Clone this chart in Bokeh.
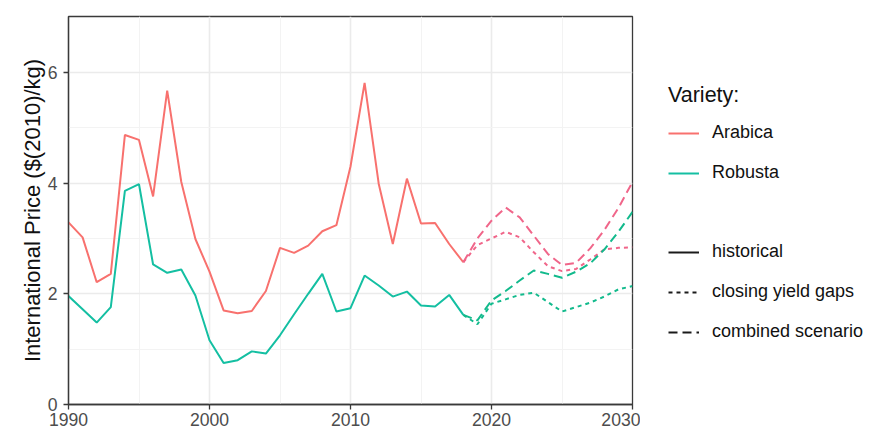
from bokeh.plotting import figure
from bokeh.layouts import row
from bokeh.models import FixedTicker, Legend, LegendItem, Range1d
from bokeh.embed import file_html
from bokeh.resources import INLINE

# ---------------- data ----------------
years_hist = [1990, 1991, 1992, 1993, 1994, 1995, 1996, 1997, 1998, 1999,
              2000, 2001, 2002, 2003, 2004, 2005, 2006, 2007, 2008, 2009,
              2010, 2011, 2012, 2013, 2014, 2015, 2016, 2017, 2018]
arabica_hist = [3.29, 3.02, 2.21, 2.36, 4.87, 4.78, 3.76, 5.67, 4.02, 2.99,
                2.40, 1.70, 1.65, 1.69, 2.05, 2.83, 2.74, 2.87, 3.13, 3.24,
                4.30, 5.81, 3.99, 2.90, 4.08, 3.27, 3.28, 2.90, 2.57]
robusta_hist = [1.96, 1.72, 1.48, 1.76, 3.86, 3.98, 2.53, 2.38, 2.44, 1.97,
                1.16, 0.75, 0.80, 0.96, 0.92, 1.25, 1.63, 2.00, 2.36, 1.68,
                1.74, 2.33, 2.15, 1.95, 2.04, 1.79, 1.77, 1.98, 1.62]

years_proj = [2018, 2019, 2020, 2021, 2022, 2023, 2024, 2025, 2026, 2027,
              2028, 2029, 2030]
arabica_gaps = [2.57, 2.88, 3.00, 3.12, 3.02, 2.75, 2.50, 2.41, 2.45, 2.62,
                2.80, 2.83, 2.84]
arabica_comb = [2.57, 3.00, 3.32, 3.56, 3.38, 3.05, 2.72, 2.52, 2.56, 2.82,
                3.15, 3.55, 4.02]
robusta_gaps = [1.62, 1.45, 1.82, 1.90, 1.98, 2.02, 1.85, 1.68, 1.76, 1.84,
                1.95, 2.08, 2.14]
robusta_comb = [1.62, 1.52, 1.88, 2.05, 2.24, 2.42, 2.36, 2.29, 2.40, 2.55,
                2.80, 3.12, 3.48]

x_ticks = [1990, 2000, 2010, 2020, 2030]
x_minor = [1995, 2005, 2015, 2025]
y_ticks = [0, 2, 4, 6]
y_minor = [1, 3, 5]

varieties = ["Arabica", "Robusta"]
scenarios = ["historical", "closing yield gaps", "combined scenario"]

# ---------------- style ----------------
FONT = "Liberation Sans"
COL_AR = "#F8716E"
COL_RO = "#14BFA2"
COL_AR_P = "#F0668A"
COL_RO_P = "#12BA8C"
DOT = "4 4"
DASH = "9 5"
NAN = float("nan")

p = figure(width=640, height=441, output_backend="svg", toolbar_location=None,
           x_range=Range1d(1990, 2030), y_range=Range1d(0, 7.01),
           min_border_left=68, min_border_right=8, min_border_top=16,
           min_border_bottom=37)
p.background_fill_color = "white"
p.border_fill_color = "white"
p.outline_line_color = "#3a3a3a"
p.outline_line_width = 1.3

p.xaxis.ticker = FixedTicker(ticks=x_ticks, minor_ticks=x_minor)
p.yaxis.ticker = FixedTicker(ticks=y_ticks, minor_ticks=y_minor)
for ax in (p.xaxis, p.yaxis):
    ax.axis_line_color = "#3a3a3a"
    ax.axis_line_width = 1.3
    ax.major_tick_line_color = "#3a3a3a"
    ax.major_tick_line_width = 1.3
    ax.major_tick_out = 5
    ax.major_tick_in = 0
    ax.minor_tick_line_color = None
    ax.major_label_text_font = FONT
    ax.major_label_text_font_size = "17.6px"
    ax.major_label_text_color = "#4d4d4d"
p.xaxis.major_label_standoff = 3
p.yaxis.major_label_standoff = 6
p.yaxis.axis_label = "International Price ($(2010)/kg)"
p.yaxis.axis_label_text_font = FONT
p.yaxis.axis_label_text_font_size = "22px"
p.yaxis.axis_label_text_font_style = "normal"
p.yaxis.axis_label_text_color = "#111111"
p.yaxis.axis_label_standoff = 0

for g in (p.xgrid, p.ygrid):
    g.grid_line_color = "#ebebeb"
    g.grid_line_width = 1.6
    g.minor_grid_line_color = "#f3f3f3"
    g.minor_grid_line_width = 1

# ---------------- lines ----------------
p.line(years_hist, arabica_hist, line_color=COL_AR, line_width=2)
p.line(years_hist, robusta_hist, line_color=COL_RO, line_width=2)
p.line(years_proj, arabica_gaps, line_color=COL_AR_P, line_width=2, line_dash=DOT)
p.line(years_proj, arabica_comb, line_color=COL_AR_P, line_width=2, line_dash=DASH)
p.line(years_proj, robusta_gaps, line_color=COL_RO_P, line_width=2, line_dash=DOT)
p.line(years_proj, robusta_comb, line_color=COL_RO_P, line_width=2, line_dash=DASH)

# ---------------- legend panel ----------------
q = figure(width=247, height=441, output_backend="svg", toolbar_location=None,
           x_axis_location=None, y_axis_location=None,
           min_border_left=0, min_border_right=0, min_border_top=0,
           min_border_bottom=0)
q.outline_line_color = None
q.grid.visible = False
q.background_fill_color = "white"
q.border_fill_color = "white"

k_ar = q.line([NAN], [NAN], line_color=COL_AR, line_width=2)
k_ro = q.line([NAN], [NAN], line_color=COL_RO, line_width=2)
k_gap = q.line([NAN], [NAN], line_alpha=0)
k_hist = q.line([NAN], [NAN], line_color="#1a1a1a", line_width=2)
k_gaps = q.line([NAN], [NAN], line_color="#1a1a1a", line_width=2, line_dash=DOT)
k_comb = q.line([NAN], [NAN], line_color="#1a1a1a", line_width=2, line_dash=DASH)

leg = Legend(items=[LegendItem(label=varieties[0], renderers=[k_ar]),
                    LegendItem(label=varieties[1], renderers=[k_ro]),
                    LegendItem(label=" ", renderers=[k_gap]),
                    LegendItem(label=scenarios[0], renderers=[k_hist]),
                    LegendItem(label=scenarios[1], renderers=[k_gaps]),
                    LegendItem(label=scenarios[2], renderers=[k_comb])],
             title="Variety:", location=(28, 62))
leg.border_line_alpha = 0
leg.background_fill_alpha = 0
leg.padding = 0
leg.margin = 0
leg.glyph_width = 31
leg.glyph_height = 20
leg.label_height = 20
leg.label_standoff = 13
leg.spacing = 19
leg.label_text_font = FONT
leg.label_text_font_size = "18px"
leg.label_text_color = "#111111"
leg.title_text_font = FONT
leg.title_text_font_size = "21.5px"
leg.title_text_font_style = "normal"
leg.title_text_color = "#111111"
leg.title_standoff = 14
q.add_layout(leg, "center")

layout = row(p, q)
open("out.html", "w").write(file_html(layout, INLINE))
